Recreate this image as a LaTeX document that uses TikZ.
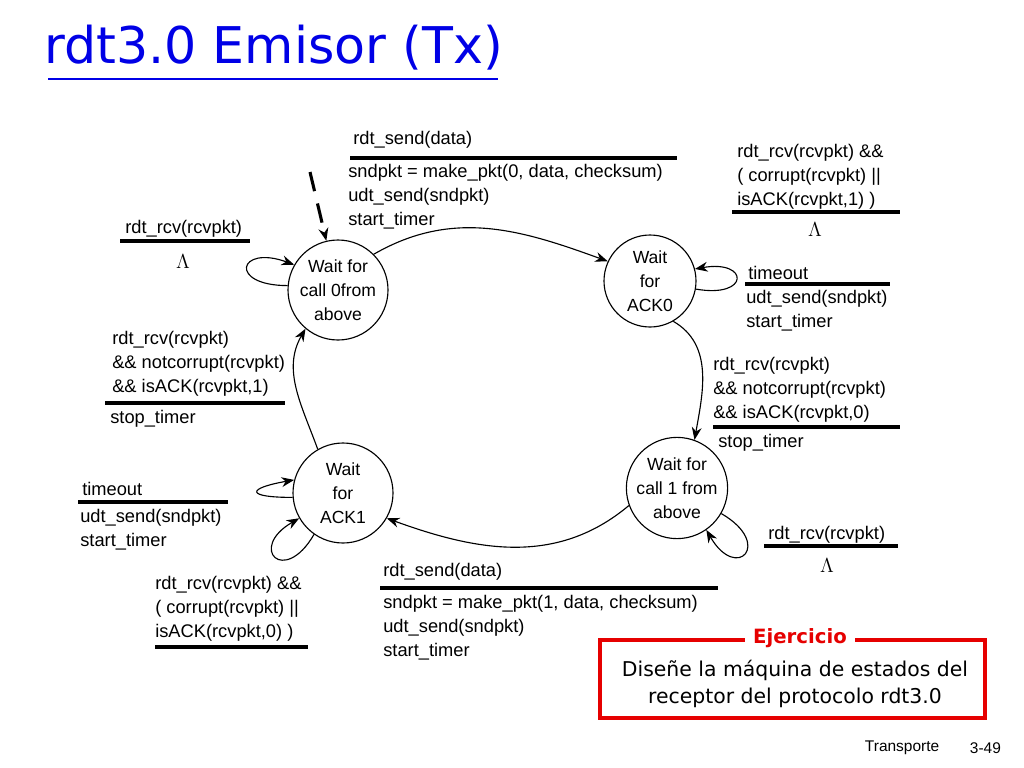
\documentclass[tikz,border=0pt]{standalone}
\usepackage{fontspec}
\setmainfont{Liberation Sans}
\newfontfamily\titlefont{DejaVu Sans}
\usetikzlibrary{arrows.meta}
\definecolor{titleblue}{RGB}{0,0,230}
\definecolor{boxred}{RGB}{230,0,0}
\tikzstyle{state} = [circle, draw=black, thick, minimum size=100\unitpx, inner sep=0pt, align=center, font=\fontsize{12.5}{17}\selectfont]
\tikzstyle{lbl} = [anchor=west, inner sep=0pt, align=left, font=\fontsize{13}{17}\selectfont]
\tikzstyle{lam} = [font=\fontsize{15}{17}\selectfont]
\tikzstyle{rule} = [line width=2.2pt]
\tikzstyle{arrow} = [thick, -{Stealth[length=9pt,width=7pt]}]
\newlength{\unitpx}
\setlength{\unitpx}{0.025cm}

\begin{document}
\begin{tikzpicture}[x=0.025cm, y=-0.025cm]
\useasboundingbox (0,0) rectangle (1024,768);

% Title
\node (title) [anchor=west, inner sep=0pt, text=titleblue, font=\titlefont\fontsize{36}{40}\selectfont] at (44,48) {rdt3.0 Emisor (Tx)};
\draw [titleblue, line width=1.5pt] (48,79) -- (498,79);

% States
\node (wait0) [state] at (338,290) {Wait for\\call 0from\\above};
\node (ack0) [state, minimum size=92\unitpx] at (650,281) {Wait\\for\\ACK0};
\node (ack1) [state] at (343,493) {Wait\\for\\ACK1};
\node (wait1) [state] at (677,488) {Wait for\\call 1 from\\above};
\coordinate (init) at (310,172);

% Transitions
\draw [arrow, dash pattern=on 14pt off 9pt, line width=2.2pt] (init) -- (wait0);
\draw [arrow] (wait0.45) to [out=30, in=160] (ack0.155);
\draw [arrow] (ack0.-60) to [out=-30, in=80] (wait1.70);
\draw [arrow] (wait1.200) to [out=-140, in=-20] (ack1.-30);
\draw [arrow] (ack1.120) to [out=110, in=-120] (wait0.-130);

% Self loops
\draw [arrow] (wait0.175) to [out=180, in=160, looseness=7] (wait0.150);
\draw [arrow] (ack0.-10) to [out=-10, in=10, looseness=7] (ack0.15);
\draw [arrow] (ack1.185) to [out=180, in=190, looseness=7] (ack1.165);
\draw [arrow] (ack1.235) to [out=240, in=210, looseness=7] (ack1.210);
\draw [arrow] (wait1.-30) to [out=-30, in=-60, looseness=7] (wait1.-55);

% Labels
\node (sd0) [lbl] at (353,140) {rdt\_send(data)};
\draw [rule] (350,158) -- (677,158);
\node (sd0a) [lbl] at (348,197) {sndpkt = make\_pkt(0, data, checksum)\\udt\_send(sndpkt)\\start\_timer};

\node (rc0) [lbl] at (737,177) {rdt\_rcv(rcvpkt) \&\&\\( corrupt(rcvpkt) ||\\isACK(rcvpkt,1) )};
\draw [rule] (732,212) -- (900,212);
\node (lam0) [lam] at (815,230) {$\Lambda$};

\node (to0) [lbl] at (748,273) {timeout};
\draw [rule] (745,284) -- (890,284);
\node (to0a) [lbl] at (746,311) {udt\_send(sndpkt)\\start\_timer};

\node (rcw0) [lbl] at (125,229) {rdt\_rcv(rcvpkt)};
\draw [rule] (120,241) -- (250,241);
\node (lamw0) [lam] at (183,262) {$\Lambda$};

\node (ok1) [lbl] at (112,364) {rdt\_rcv(rcvpkt)\\\&\& notcorrupt(rcvpkt)\\\&\& isACK(rcvpkt,1)};
\draw [rule] (105,403) -- (285,403);
\node (st1) [lbl] at (110,419) {stop\_timer};

\node (ok0) [lbl] at (713,390) {rdt\_rcv(rcvpkt)\\\&\& notcorrupt(rcvpkt)\\\&\& isACK(rcvpkt,0)};
\draw [rule] (713,427) -- (900,427);
\node (st0) [lbl] at (718,443) {stop\_timer};

\node (to1) [lbl] at (82,489) {timeout};
\draw [rule] (78,502) -- (228,502);
\node (to1a) [lbl] at (80,530) {udt\_send(sndpkt)\\start\_timer};

\node (rcw1) [lbl] at (768,535) {rdt\_rcv(rcvpkt)};
\draw [rule] (764,546) -- (898,546);
\node (lamw1) [lam] at (827,566) {$\Lambda$};

\node (rc1) [lbl] at (155,609) {rdt\_rcv(rcvpkt) \&\&\\( corrupt(rcvpkt) ||\\isACK(rcvpkt,0) )};
\draw [rule] (155,647) -- (308,647);

\node (sd1) [lbl] at (383,572) {rdt\_send(data)};
\draw [rule] (380,588) -- (718,588);
\node (sd1a) [lbl] at (383,628) {sndpkt = make\_pkt(1, data, checksum)\\udt\_send(sndpkt)\\start\_timer};

% Exercise box
\draw [boxred, line width=2.2pt] (600,640) rectangle (985,718);
\node (ejer) [fill=white, text=boxred, inner xsep=6pt, font=\titlefont\bfseries\fontsize{14}{17}\selectfont] at (800,638) {Ejercicio};
\node (task) [align=center, font=\titlefont\fontsize{14.5}{19}\selectfont] at (795,684) {Diseñe la máquina de estados del\\receptor del protocolo rdt3.0};

% Footer
\node (foot) [anchor=west, font=\fontsize{11}{13}\selectfont] at (860,748) {Transporte};
\node (page) [anchor=west, font=\fontsize{11}{13}\selectfont] at (965,748) {3-49};
\end{tikzpicture}
\end{document}
